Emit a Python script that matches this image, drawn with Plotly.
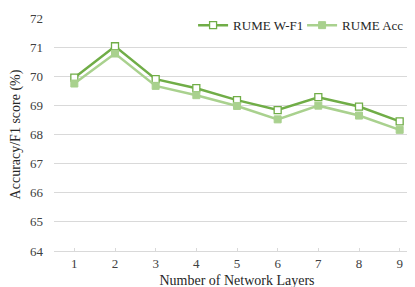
import plotly.graph_objects as go

layers = ["1", "2", "3", "4", "5", "6", "7", "8", "9"]
wf1 = [69.95, 71.03, 69.90, 69.59, 69.18, 68.84, 69.28, 68.96, 68.45]
acc = [69.75, 70.78, 69.67, 69.35, 68.98, 68.52, 68.99, 68.65, 68.16]
y_ticks = [64, 65, 66, 67, 68, 69, 70, 71, 72]

dark = "#70AD47"
light = "#A9D18E"
font = "Liberation Serif"

fig = go.Figure()
fig.add_trace(go.Scatter(
    x=layers, y=wf1, name="RUME W-F1", mode="lines+markers",
    line=dict(color=dark, width=2.5),
    marker=dict(symbol="square", size=7, color="white", line=dict(color=dark, width=1.3)),
))
fig.add_trace(go.Scatter(
    x=layers, y=acc, name="RUME Acc", mode="lines+markers",
    line=dict(color=light, width=2.5),
    marker=dict(symbol="square", size=7, color=light, line=dict(color=light, width=1)),
))

fig.update_layout(
    width=415, height=287,
    margin=dict(l=46, r=3, t=9, b=44),
    paper_bgcolor="white", plot_bgcolor="white",
    font=dict(family=font, size=13, color="#404040"),
    legend=dict(orientation="h", x=0.38, xanchor="left", y=0.965, yanchor="middle",
                font=dict(family=font, size=13, color="#262626"),
                bgcolor="rgba(0,0,0,0)", entrywidth=64, entrywidthmode="pixels",
                traceorder="normal"),
    xaxis=dict(
        type="category", range=[-0.5, 8.5], automargin=False,
        showgrid=False, showline=True, linecolor="#D9D9D9", linewidth=1,
        ticks="inside", ticklen=3, tickcolor="#D9D9D9",
        title=dict(text="Number of Network Layers", font=dict(family=font, size=14, color="#262626"), standoff=5),
        tickfont=dict(family=font, size=13, color="#404040"),
    ),
    yaxis=dict(
        range=[64, 72], tickvals=y_ticks, showgrid=True, gridcolor="#D9D9D9", gridwidth=1,
        zeroline=False, showline=False, ticks="", automargin=False, ticklabelstandoff=10,
        title=dict(text="Accuracy/F1 score (%)", font=dict(family=font, size=14, color="#262626"), standoff=8),
        tickfont=dict(family=font, size=13, color="#404040"),
    ),
)

fig.write_html("out.html")
